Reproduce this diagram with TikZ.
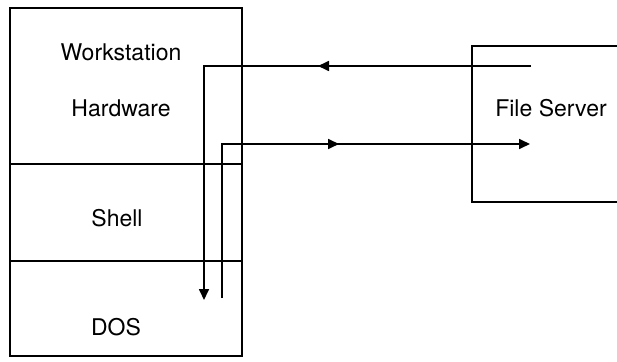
\documentclass[tikz,border=0pt]{standalone}
\usepackage{fontspec}
\setmainfont{TeX Gyre Heros}
\usetikzlibrary{arrows.meta,decorations.markings}

\begin{document}
\begin{tikzpicture}[x=1pt, y=1pt,
	every node/.style={font=\fontsize{23}{27}\selectfont, inner sep=0pt},
	box/.style={line width=2.2pt},
	flow/.style={line width=1.7pt},
	tip/.style={-{Triangle[length=11pt, width=10pt]}},
	midarrow/.style={postaction={decorate}, decoration={markings,
		mark=at position #1 with {\arrow{Triangle[length=11pt, width=10pt]}}}}]
	\useasboundingbox (0,0) rectangle (617,361);
	% workstation stack
	\draw[box] (10,5) rectangle (242,353);
	\draw[box] (10,197) -- (242,197);
	\draw[box] (10,100) -- (242,100);
	\node (ws) at (121,309) {Workstation};
	\node (hw) at (121,253) {Hardware};
	\node (sh) at (117,143) {Shell};
	\node (dos) at (116,34) {DOS};
	% file server, open to the right
	\draw[box] (617,315) -- (472,315) -- (472,159) -- (617,159);
	\node (fs) at (551,253) {File Server};
	% connectors
	\coordinate (fsout) at (531,295);
	\coordinate (turnin) at (204,295);
	\coordinate (dosin) at (204,61);
	\coordinate (dosout) at (222,63);
	\coordinate (turnout) at (222,217);
	\coordinate (fsin) at (530,217);
	\draw[flow, tip, midarrow=213pt] (fsout) -- (turnin) -- (dosin);
	\draw[flow, tip, midarrow=271pt] (dosout) -- (turnout) -- (fsin);
\end{tikzpicture}
\end{document}
